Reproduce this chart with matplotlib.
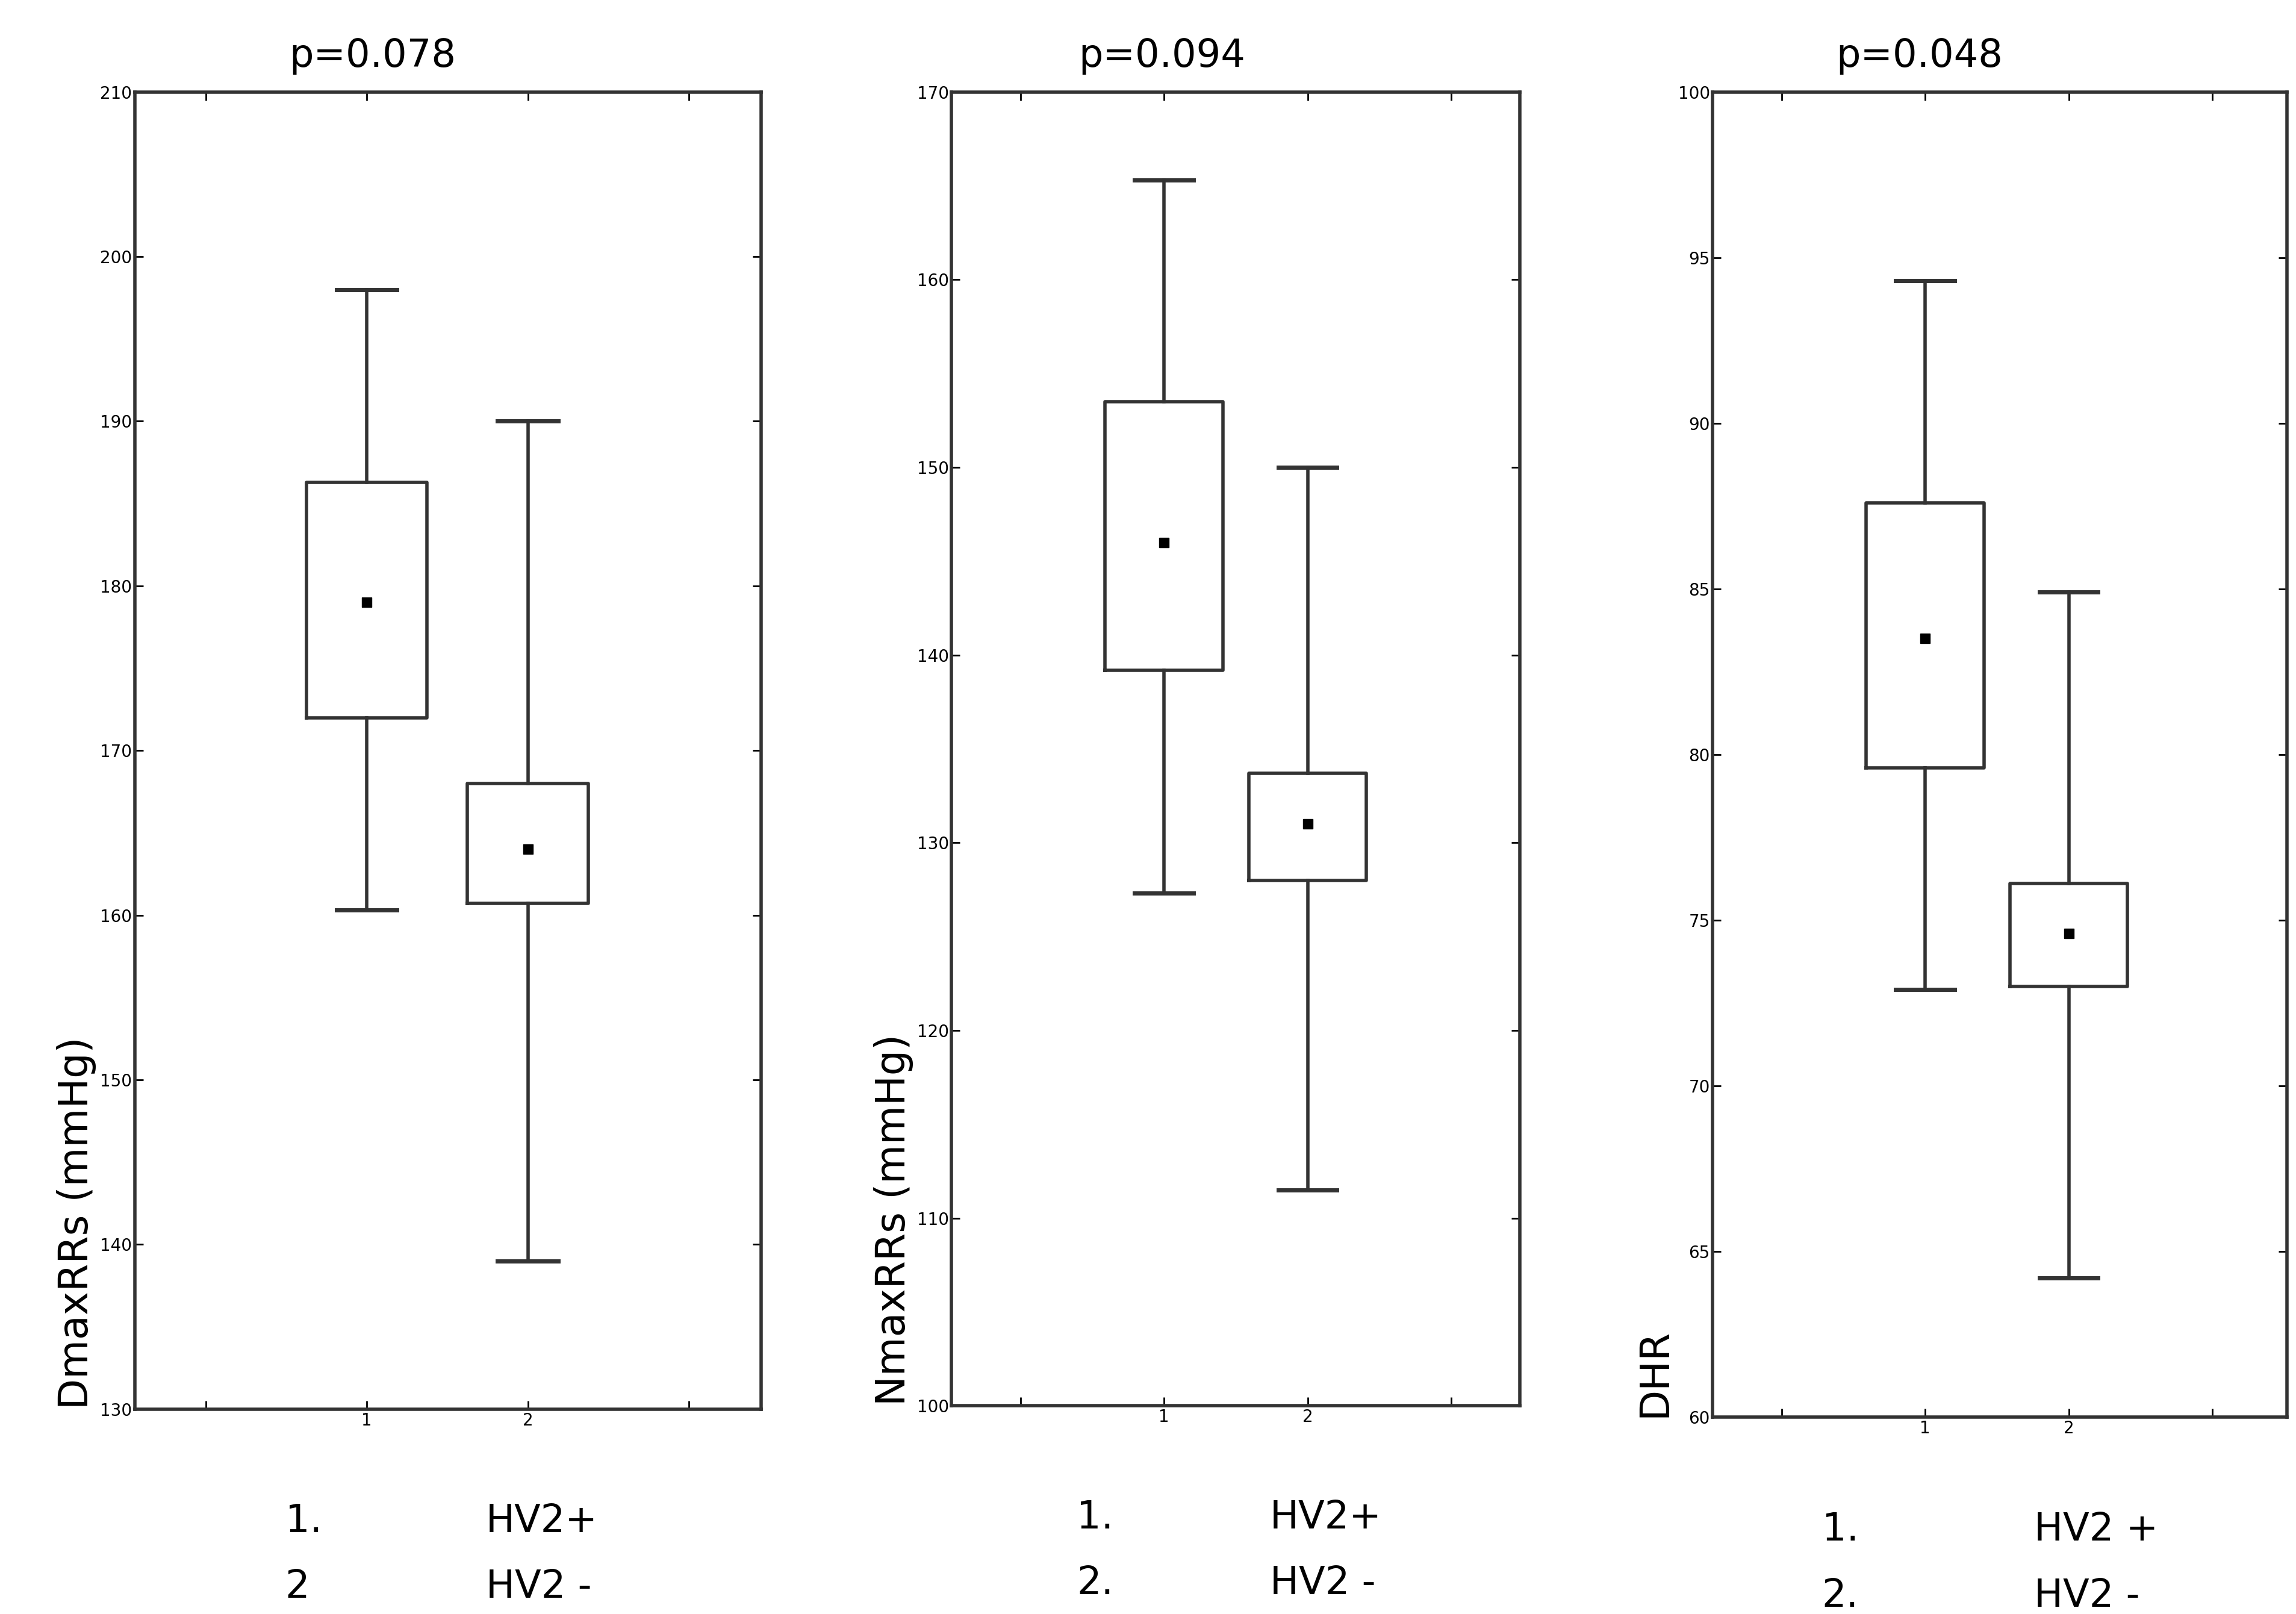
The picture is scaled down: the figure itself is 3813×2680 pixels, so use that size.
import matplotlib
matplotlib.use("Agg")
import matplotlib.pyplot as plt

titles = ["p=0.078", "p=0.094", "p=0.048"]
ylabels = ["DmaxRRs (mmHg)", "NmaxRRs (mmHg)", "DHR"]
ylims = [(130, 210), (100, 170), (60, 100)]
yticks = [list(range(130, 211, 10)), list(range(100, 171, 10)), list(range(60, 101, 5))]
whislo = [[160.3, 139.0], [127.3, 111.5], [72.9, 64.2]]
q1 = [[172.0, 160.7], [139.2, 128.0], [79.6, 73.0]]
q3 = [[186.3, 168.0], [153.5, 133.7], [87.6, 76.1]]
whishi = [[198.0, 190.0], [165.3, 150.0], [94.3, 84.9]]
means = [[179.0, 164.0], [146.0, 131.0], [83.5, 74.6]]
num_labels = [["1.", "2"], ["1.", "2."], ["1.", "2."]]
grp_labels = [["HV2+", "HV2 -"], ["HV2+", "HV2 -"], ["HV2 +", "HV2 -"]]
xticklabels = ["1", "2"]

rects = [(0.0587, 0.127, 0.2729, 0.816), (0.4145, 0.129, 0.2475, 0.814), (0.746, 0.122, 0.250, 0.821)]
xlims = [(-0.44, 3.45), (-0.48, 3.48), (-0.48, 3.52)]
widths = [0.75, 0.82, 0.82]
num_x = [0.24, 0.22, 0.19]
title_x = [0.38, 0.37, 0.36]

fig = plt.figure(figsize=(38.13, 26.8), dpi=100)
for i in range(3):
    ax = fig.add_axes(rects[i])
    stats = []
    for j in range(2):
        stats.append(dict(whislo=whislo[i][j], q1=q1[i][j], med=means[i][j],
                          q3=q3[i][j], whishi=whishi[i][j], fliers=[]))
    ax.bxp(stats, positions=[1, 2], widths=widths[i], showfliers=False,
           boxprops=dict(color="#333333", linewidth=4),
           whiskerprops=dict(color="#333333", linewidth=4),
           capprops=dict(color="#333333", linewidth=5),
           medianprops=dict(linewidth=0), manage_ticks=False)
    ax.plot([1, 2], means[i], linestyle="none", marker="s", color="black", markersize=12)
    ax.set_xlim(*xlims[i])
    ax.set_ylim(*ylims[i])
    ax.set_yticks(yticks[i])
    ax.set_xticks([1, 2])
    ax.set_xticks([0, 3], minor=True)
    ax.set_xticklabels(xticklabels)
    ax.tick_params(which="both", labelsize=20, direction="in", length=10, width=2, right=True, top=True)
    for s in ax.spines.values():
        s.set_linewidth(4)
        s.set_color("#333333")
    ax.set_ylabel(ylabels[i], fontsize=48, loc="bottom")
    ax.set_title(titles[i], fontsize=46, pad=30, x=title_x[i])
    for k, yy in enumerate([-0.085, -0.135]):
        ax.text(num_x[i], yy, num_labels[i][k], transform=ax.transAxes, fontsize=46, va="center")
        ax.text(0.56, yy, grp_labels[i][k], transform=ax.transAxes, fontsize=46, va="center")

fig.savefig("out.png", dpi=100)
